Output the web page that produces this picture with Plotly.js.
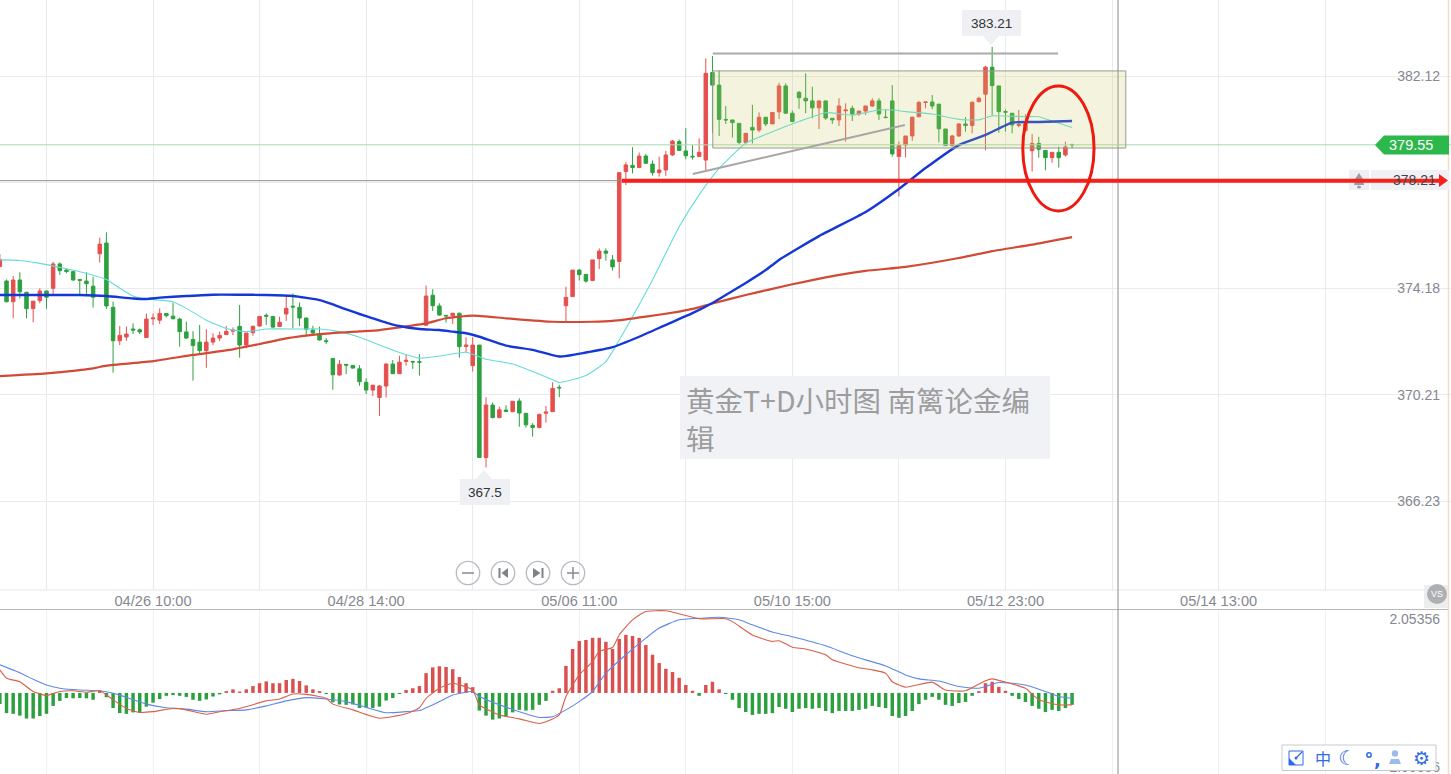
<!DOCTYPE html>
<html><head><meta charset="utf-8">
<script src="https://cdn.plot.ly/plotly-3.0.1.min.js"></script>
<style>html,body{margin:0;padding:0;background:#fff;overflow:hidden}#c{width:1451px;height:774px}</style>
</head><body><div id="c"></div>
<script>
const opens=[375.00,374.46,373.69,374.50,374.04,373.43,373.73,374.09,374.19,375.10,374.87,374.81,374.52,374.46,374.27,375.48,375.88,373.48,372.23,372.37,372.67,372.64,372.35,373.05,373.00,373.25,373.15,373.04,372.56,372.28,372.18,371.86,372.18,372.33,372.46,372.59,372.77,372.07,372.53,372.78,373.18,373.14,372.76,373.23,373.52,373.48,373.08,372.63,372.48,372.23,371.57,370.95,371.35,371.31,371.18,370.68,370.39,370.11,370.54,371.36,371.00,371.46,371.46,371.45,372.81,373.93,373.53,373.18,373.17,373.26,372.02,371.30,372.07,367.87,369.83,369.36,369.64,369.58,369.98,369.52,369.07,368.99,369.52,369.58,370.49,373.54,373.88,374.87,374.71,374.48,375.30,375.58,375.25,375.19,378.55,378.78,378.70,379.13,378.83,378.51,378.61,379.17,379.67,379.32,379.12,379.11,378.98,382.25,381.78,380.50,380.48,380.35,379.64,380.20,380.10,380.58,380.33,380.78,381.75,380.73,381.51,381.29,381.19,380.93,381.19,380.54,380.48,380.82,380.91,380.70,380.81,381.00,381.19,380.58,381.19,379.11,379.54,379.88,380.60,381.13,381.15,381.07,380.14,379.52,379.88,380.33,380.27,381.16,381.44,382.45,381.75,380.79,380.73,380.27,380.08,379.33,379.60,379.34,379.07,379.27,379.17,379.56];
const highs=[375.47,374.52,374.65,374.79,374.06,373.71,374.19,374.09,375.18,375.16,374.93,374.85,374.52,374.79,374.62,376.08,376.28,373.69,372.78,372.76,372.88,372.69,373.25,373.25,373.44,373.25,373.65,373.09,372.94,372.59,372.82,372.66,372.51,372.57,372.78,372.73,373.57,372.52,372.79,373.14,373.25,373.14,373.13,373.94,374.00,373.66,373.08,372.79,372.76,372.33,371.57,371.51,371.35,371.32,371.32,370.83,370.57,370.58,371.39,371.51,371.67,371.70,371.46,371.73,374.29,374.16,373.63,373.19,373.26,373.28,372.36,372.36,372.07,370.12,369.92,369.77,369.82,369.97,370.08,369.52,369.15,369.51,369.79,370.68,370.58,374.25,374.87,374.90,374.71,375.25,375.68,375.68,375.43,378.51,378.90,379.46,379.26,379.21,378.96,379.11,379.32,379.73,379.75,380.17,379.54,379.79,382.78,382.87,382.32,381.00,380.48,380.35,379.98,381.04,380.76,380.58,380.76,381.87,381.85,380.83,381.56,382.22,381.72,381.19,381.19,380.54,381.29,381.10,381.01,380.81,381.00,381.29,381.29,380.87,381.78,379.67,379.88,380.60,381.19,381.15,381.41,381.07,380.14,379.92,380.35,380.58,381.16,381.35,382.50,383.21,381.75,380.87,380.73,380.85,380.69,379.95,379.85,379.34,379.27,379.48,379.67,379.59];
const lows=[375.00,373.66,373.07,373.81,373.07,372.92,373.63,373.42,373.98,374.69,374.75,374.47,373.98,373.98,373.47,375.15,373.42,371.04,372.07,372.23,372.48,372.48,372.35,372.82,372.86,373.10,373.04,372.01,372.30,370.74,371.74,371.22,372.07,372.22,372.44,372.44,371.60,371.95,372.42,372.76,372.82,372.69,372.76,372.97,372.69,372.78,372.44,372.44,372.23,372.10,370.40,370.93,370.98,371.19,370.55,370.24,370.17,369.42,370.11,371.00,371.00,371.30,371.18,370.93,372.78,373.34,373.17,372.91,372.86,371.60,371.80,371.08,367.87,367.50,369.33,369.33,369.57,369.57,369.02,368.99,368.65,368.96,369.17,369.58,370.12,372.93,373.88,374.48,374.40,374.48,374.91,375.22,374.85,374.56,378.05,378.48,378.70,378.83,378.40,378.36,378.39,379.14,379.32,379.01,379.00,379.11,378.58,379.98,379.88,380.33,379.82,379.58,379.60,379.60,380.02,380.25,380.33,380.51,380.70,380.39,380.89,380.73,380.54,380.14,380.48,380.33,380.25,379.67,380.44,380.63,380.66,380.97,380.48,380.54,379.11,377.62,379.08,379.70,380.58,380.91,380.88,379.64,379.51,379.48,379.85,380.04,379.98,381.14,379.35,380.66,380.00,380.04,379.98,380.20,380.04,378.55,379.07,378.60,378.88,378.70,379.11,379.42];
const closes=[375.27,373.69,374.50,374.06,373.43,373.71,374.09,373.86,375.10,374.85,374.82,374.50,374.49,374.36,373.86,375.84,373.53,372.23,372.43,372.48,372.63,372.56,373.04,373.08,373.25,373.17,373.05,372.57,372.33,372.05,371.86,372.18,372.33,372.43,372.58,372.63,372.07,372.52,372.77,373.14,373.15,372.74,372.92,373.44,373.49,373.08,372.66,372.52,372.26,372.20,370.96,371.35,371.32,371.21,370.70,370.39,370.57,370.54,371.36,371.00,371.43,371.50,371.44,371.43,373.90,373.54,373.19,373.16,373.26,372.01,372.07,372.07,367.87,369.83,369.36,369.65,369.59,369.97,369.53,369.09,368.99,369.48,369.57,370.45,370.47,373.85,374.87,374.70,374.46,375.25,375.58,375.50,374.99,378.51,378.80,378.70,379.13,378.86,378.51,378.61,379.17,379.69,379.34,379.14,379.10,379.27,382.22,381.78,380.50,380.48,380.38,379.64,379.98,380.10,380.58,380.33,380.76,381.75,380.73,380.42,381.31,381.19,380.93,381.19,380.55,380.48,381.00,380.85,380.70,380.81,381.00,381.19,380.70,380.57,379.21,379.52,379.88,380.58,381.13,381.15,381.00,380.15,379.52,379.88,380.33,380.27,381.14,381.29,382.45,381.76,380.79,380.77,380.29,380.31,380.35,379.60,379.38,379.07,379.27,379.07,379.47,379.55];
const gridBars=[7,23,39,55,71,87,103,119,135,151,167,183,199];
const tickLabels=['','04/26 10:00','','04/28 14:00','','05/06 11:00','','05/10 15:00','','05/12 23:00','','05/14 13:00',''];
const priceTicks=[382.12,378.15,374.18,370.21,366.23];
const macdTicks=[2.05356,-2.05356];
const macdTickText=['2.05356','2.05356'];
const blueBars=[0,4,8,12,16,20,22,24,28,32,36,40,44,48,50,52,54,56,58,60,63,66,68,70,72,76,80,84,88,92,96,100,104,107,110,112,115,117,123,130,135,139,144,148,152,156,161];
const blueMA=[373.94,373.94,373.94,373.94,373.90,373.81,373.79,373.84,373.90,373.95,373.95,373.94,373.90,373.75,373.59,373.40,373.23,373.07,372.91,372.78,372.67,372.63,372.57,372.51,372.38,372.05,371.89,371.64,371.79,371.99,372.38,372.82,373.26,373.64,374.09,374.39,374.87,375.25,376.14,377.04,377.90,378.68,379.54,379.92,380.38,380.40,380.44];
const redBars=[0,7,14,16,23,29,35,39,43,48,54,57,60,64,67,71,76,83,89,92,97,102,104,107,112,119,124,130,136,144,149,155,161];
const redMA=[370.91,371.01,371.20,371.30,371.47,371.70,371.91,372.11,372.32,372.48,372.58,372.63,372.73,372.88,373.07,373.17,373.07,372.94,372.94,372.97,373.13,373.32,373.42,373.62,373.94,374.34,374.60,374.84,374.99,375.32,375.58,375.82,376.10];
const cyanBars=[0,3,6,9,12,16,18,20,22,26,28,31,34,37,40,45,48,51,54,57,60,63,66,70,73,77,80,83,84,88,91,93,95,98,102,105,108,112,116,120,124,128,132,134,136,140,144,147,149,154,156,158,161];
const cyanMA=[375.25,375.23,375.12,374.97,374.81,374.52,374.19,373.90,373.79,373.69,373.44,373.00,372.69,372.57,372.67,372.67,372.67,372.57,372.36,372.07,371.79,371.58,371.66,371.80,371.54,371.36,371.08,370.77,370.67,370.93,371.45,372.26,373.13,374.50,376.49,377.68,378.67,379.61,380.04,380.42,380.75,380.66,380.85,380.85,380.79,380.70,380.50,380.48,380.63,380.60,380.60,380.44,380.20];
const macdHist=[-0.31,-0.56,-0.58,-0.63,-0.71,-0.71,-0.64,-0.58,-0.36,-0.22,-0.14,-0.15,-0.14,-0.15,-0.19,0.06,-0.12,-0.42,-0.56,-0.58,-0.54,-0.55,-0.38,-0.27,-0.17,-0.08,-0.06,-0.08,-0.11,-0.19,-0.22,-0.18,-0.10,-0.04,0.05,0.10,0.04,0.10,0.19,0.27,0.32,0.27,0.27,0.36,0.39,0.33,0.21,0.10,0.05,-0.03,-0.26,-0.32,-0.33,-0.32,-0.42,-0.40,-0.42,-0.38,-0.21,-0.14,-0.03,0.08,0.13,0.19,0.55,0.71,0.74,0.72,0.66,0.44,0.27,0.16,-0.49,-0.63,-0.74,-0.71,-0.66,-0.54,-0.47,-0.49,-0.47,-0.33,-0.22,0.06,0.13,0.75,1.22,1.44,1.47,1.53,1.53,1.42,1.22,1.50,1.61,1.58,1.53,1.33,1.06,0.83,0.67,0.58,0.42,0.22,0.06,-0.08,0.22,0.31,0.10,-0.03,-0.19,-0.42,-0.53,-0.61,-0.58,-0.58,-0.56,-0.39,-0.44,-0.53,-0.44,-0.42,-0.44,-0.42,-0.50,-0.56,-0.50,-0.50,-0.50,-0.47,-0.44,-0.36,-0.39,-0.42,-0.64,-0.69,-0.64,-0.50,-0.31,-0.19,-0.11,-0.19,-0.33,-0.36,-0.28,-0.25,-0.08,0.05,0.27,0.31,0.17,0.06,-0.08,-0.17,-0.25,-0.36,-0.44,-0.53,-0.47,-0.50,-0.42,-0.33];
const deaBars=[0,3,5,7,9,12,15,18,20,22,25,28,31,34,37,40,43,46,49,52,55,58,61,63,66,68,71,72,75,78,81,83,85,87,89,91,94,97,99,102,105,108,111,113,116,119,124,128,133,136,138,141,144,147,150,154,157,159,161];
const deaLine=[0.78,0.56,0.38,0.22,0.13,0.08,0.06,-0.06,-0.19,-0.31,-0.41,-0.45,-0.52,-0.49,-0.47,-0.36,-0.22,-0.13,-0.17,-0.24,-0.40,-0.55,-0.52,-0.49,-0.24,-0.06,0.04,-0.10,-0.33,-0.52,-0.68,-0.66,-0.47,-0.24,0.04,0.55,1.06,1.52,1.80,2.03,2.07,2.10,2.03,1.89,1.69,1.56,1.31,1.03,0.75,0.50,0.39,0.33,0.18,0.13,0.29,0.22,0.04,-0.10,-0.15];
const difBars=[0,1,3,5,7,9,11,13,15,17,19,21,23,26,28,31,33,36,40,42,44,46,49,50,53,57,61,63,64,66,68,71,72,75,78,81,82,84,85,87,89,90,92,93,95,97,100,105,109,110,113,116,117,119,121,124,125,129,131,133,134,136,140,142,145,148,149,151,154,156,159,161];
const difLine=[0.64,0.41,0.31,0.04,-0.07,0.04,0.06,0.02,0.06,-0.19,-0.43,-0.54,-0.52,-0.43,-0.47,-0.59,-0.52,-0.43,-0.22,-0.17,-0.03,-0.04,-0.15,-0.31,-0.47,-0.70,-0.58,-0.41,-0.15,0.13,0.27,0.08,-0.33,-0.61,-0.72,-0.85,-0.80,-0.61,-0.10,0.50,0.87,1.15,1.26,1.61,2.03,2.26,2.28,2.06,2.06,1.98,1.61,1.43,1.45,1.27,1.22,1.06,0.92,0.70,0.64,0.55,0.31,0.16,0.30,0.08,0.06,0.34,0.39,0.30,0.13,-0.19,-0.33,-0.33];
const lastPrice=379.55, alertPrice=378.21, rangeTop=382.31, rangeBottom=379.43;

const W=1451,H=774, RED='#e5504f', GREEN='#2ca03f', GREY='#85888f';
const barIndex=opens.map((_,i)=>i);
const px=x=>x/W, py=y=>1-y/H;
const pathPx=(pts,close=true)=>pts.map((p,i)=>(i?'L':'M')+px(p[0]).toFixed(5)+' '+py(p[1]).toFixed(5)).join(' ')+(close?' Z':'');
const base={xref:'paper',yref:'paper',layer:'above'};
const rect=(x0,y0,x1,y1,fill,line)=>({...base,type:'rect',x0:px(x0),x1:px(x1),y0:py(y0),y1:py(y1),fillcolor:fill,line:line?{color:line,width:1}:{width:0}});
const seg=(x0,y0,x1,y1,color,w)=>({...base,type:'line',x0:px(x0),x1:px(x1),y0:py(y0),y1:py(y1),line:{color,width:w}});
const circ=(cx,cy,rx,ry,fill,line,w)=>({...base,type:'circle',x0:px(cx-rx),x1:px(cx+rx),y0:py(cy+ry),y1:py(cy-ry),fillcolor:fill,line:line?{color:line,width:w||1}:{width:0}});
const poly=(pts,fill)=>({...base,type:'path',path:pathPx(pts),fillcolor:fill,line:{width:0}});
const txt=(x,y,text,size,color,anchor,family,extra)=>({xref:'paper',yref:'paper',x:px(x),y:py(y),text,showarrow:false,xanchor:anchor||'center',yanchor:'middle',font:{size,color,family:family||'Liberation Sans, Arial, sans-serif'},borderpad:0,...(extra||{})});
const BLUEI='#2f6be8';
const dataShape=(o)=>({xref:'x',yref:'y',layer:'above',...o});

const shapes=[
 seg(0,590,1449,590,'#e4e6ea',1), seg(0,609.5,1449,609.5,'#b9b9b9',1),
 seg(1448.5,0,1448.5,774,'#f4dccb',1.5),
 seg(1118,0,1118,774,'#8a8a8a',1),
 dataShape({type:'line',x0:-1,x1:218,y0:lastPrice,y1:lastPrice,line:{color:'#a5dcb0',width:1}}),
 dataShape({type:'line',x0:-1,x1:202.5,y0:alertPrice,y1:alertPrice,line:{color:'#8d8d93',width:1}}),
 dataShape({type:'rect',x0:107.05,x1:169.07,y0:rangeBottom,y1:rangeTop,fillcolor:'rgba(200,200,90,0.2)',line:{color:'#9a9a8e',width:1}}),
 dataShape({type:'line',x0:107.05,x1:158.9,y0:382.96,y1:382.96,line:{color:'#a9a9a9',width:2}}),
 dataShape({type:'line',x0:104.05,x1:135.9,y0:378.46,y1:380.29,line:{color:'#a9a5a2',width:2}}),
 rect(1349,170,1369,190,'#eef0f4'), rect(1371,170,1449,190,'#f0f1f5'),
 poly([[1359,173],[1363,179],[1364,185],[1354,185],[1355,179]],'#9a9da4'), circ(1359,187,2,1.6,'#9a9da4'),
 dataShape({type:'line',x0:93.4,x1:216.3,y0:alertPrice,y1:alertPrice,line:{color:'#f5211a',width:4}}),
 poly([[1439,174],[1448,180.5],[1439,187]],'#f5211a'),
 dataShape({type:'circle',x0:153.6,x1:164.3,y0:377.08,y1:381.75,line:{color:'#ee1a10',width:3}}),
 poly([[1375,145],[1384,135.5],[1449,135.5],[1449,154.5],[1384,154.5]],'#2db84b'),
 rect(962,10,1021,36,'#eef0f3'), poly([[983,36],[991,45],[999,36]],'#eef0f3'),
 rect(460,479,510,505,'#eef0f3'), poly([[476,479],[484,470],[492,479]],'#eef0f3'),
 rect(680,376,1050,459,'#f1f2f6'),
 circ(468,573,11.7,11.7,'rgba(255,255,255,0)','#b7bac0',1.3), circ(503,573,11.7,11.7,'rgba(255,255,255,0)','#b7bac0',1.3),
 circ(538,573,11.7,11.7,'rgba(255,255,255,0)','#b7bac0',1.3), circ(573,573,11.7,11.7,'rgba(255,255,255,0)','#b7bac0',1.3),
 seg(462,573,474,573,'#8d9096',1.6), seg(567,573,579,573,'#8d9096',1.6), seg(573,567,573,579,'#8d9096',1.6),
 rect(498.5,568,500.5,578,'#7f8288'), poly([[508,568],[501.5,573],[508,578]],'#7f8288'),
 rect(541.5,568,543.5,578,'#7f8288'), poly([[533,568],[540.5,573],[533,578]],'#7f8288'),
 rect(1424,585,1448,608,'#eceded'), circ(1437,594,10,10,'#aeafb3'),
 rect(1282,745,1436,770.5,'#ffffff','#c6cad2'),
 rect(1289,751,1303,765,'rgba(255,255,255,0)',BLUEI), poly([[1289,758],[1296,765],[1289,765]],BLUEI),
 seg(1296,758,1302,752,BLUEI,1.2), circ(1296,758,1.5,1.5,BLUEI),
 circ(1369,755,2.2,2.2,'#ffffff',BLUEI,1.5),
 circ(1395,753.5,3.2,3.2,'#9dbaf0'), poly([[1389,764],[1391,759],[1399,759],[1401,764]],'#9dbaf0'),
];
const annotations=[
 txt(1411,145,'379.55',14.5,'#ffffff'),
 txt(1437,180,'378.21',14,'#444444','right'),
 txt(991.5,23,'383.21',13.5,'#333333'),
 txt(484.5,492,'367.5',13.5,'#333333'),
 txt(685,399,'黄金T+D小时图 南篱论金编',28.5,'#9d9d9d','left','Noto Sans CJK SC'),
 txt(685,437,'辑',28.5,'#9d9d9d','left','Noto Sans CJK SC'),
 txt(1437,594,'VS',9,'#ffffff'),
 txt(1323,758,'中',16,BLUEI,'center','Noto Sans CJK SC'),
 txt(1347,758,'☾',20,BLUEI,'center','DejaVu Sans'),
 txt(1377,759,'<b>,</b>',18,BLUEI,'center','DejaVu Sans'),
 txt(1421,758,'⚙',19,BLUEI,'center','DejaVu Sans'),
];
const lineTrace=(x,y,color,width,ax)=>({type:'scatter',mode:'lines',x,y,xaxis:ax?'x2':'x',yaxis:ax?'y2':'y',line:{color,width,shape:'spline',smoothing:0.5},hoverinfo:'skip'});
const traces=[
 {type:'candlestick',x:barIndex,open:opens,high:highs,low:lows,close:closes,xaxis:'x',yaxis:'y',
  increasing:{line:{color:RED,width:1},fillcolor:RED},decreasing:{line:{color:GREEN,width:1},fillcolor:GREEN},hoverinfo:'skip'},
 lineTrace(cyanBars,cyanMA,'#62dcdc',1.1),
 lineTrace(redBars,redMA,'#d24a36',2.2),
 lineTrace(blueBars,blueMA,'#1437d6',2.4),
 {type:'bar',x:barIndex,y:macdHist,xaxis:'x2',yaxis:'y2',width:0.52,marker:{color:macdHist.map(v=>v>=0?'#d9504e':'#2ca03f'),line:{width:0}},hoverinfo:'skip'},
 lineTrace(deaBars,deaLine,'#5f88e8',1.1,true),
 lineTrace(difBars,difLine,'#d8604a',1.1,true),
];
const xBase={range:[0.02,217.9],tickmode:'array',tickvals:gridBars,showgrid:true,gridcolor:'#e8eaee',gridwidth:1,zeroline:false,showline:false,ticks:'',fixedrange:true};
const layout={
 width:W,height:H,margin:{l:0,r:0,t:0,b:0,pad:0},autosize:false,showlegend:false,paper_bgcolor:'#fff',plot_bgcolor:'#fff',
 boxgap:0.25,boxmode:'overlay',barmode:'overlay',
 font:{family:'Liberation Sans, Arial, sans-serif',color:GREY,size:14},
 xaxis:{...xBase,domain:[0,1],anchor:'y',ticktext:tickLabels,showticklabels:true,tickfont:{size:14.6,color:GREY},rangeslider:{visible:false}},
 xaxis2:{...xBase,domain:[0,1],anchor:'y2',matches:'x',showticklabels:false,gridcolor:'#eff0f3'},
 yaxis:{domain:[184/774,1],anchor:'x',side:'right',range:[362.92,384.959],tickmode:'array',tickvals:priceTicks,ticktext:priceTicks.map(v=>v.toFixed(2)),ticklabelposition:'inside',ticklabelstandoff:8,ticklabeloverflow:'allow',ticks:'',showgrid:true,gridcolor:'#e9ebee',zeroline:false,showline:false,tickfont:{size:14,color:GREY},fixedrange:true},
 yaxis2:{domain:[0,165/774],anchor:'x2',side:'right',range:[-2.25,2.33],tickmode:'array',tickvals:macdTicks,ticktext:macdTickText,ticklabelposition:'inside',ticklabelstandoff:8,ticklabeloverflow:'allow',ticks:'',showgrid:false,zeroline:false,showline:false,tickfont:{size:14,color:GREY},fixedrange:true},
 shapes,annotations
};
Plotly.newPlot('c',traces,layout,{staticPlot:true,displayModeBar:false});
</script></body></html>
